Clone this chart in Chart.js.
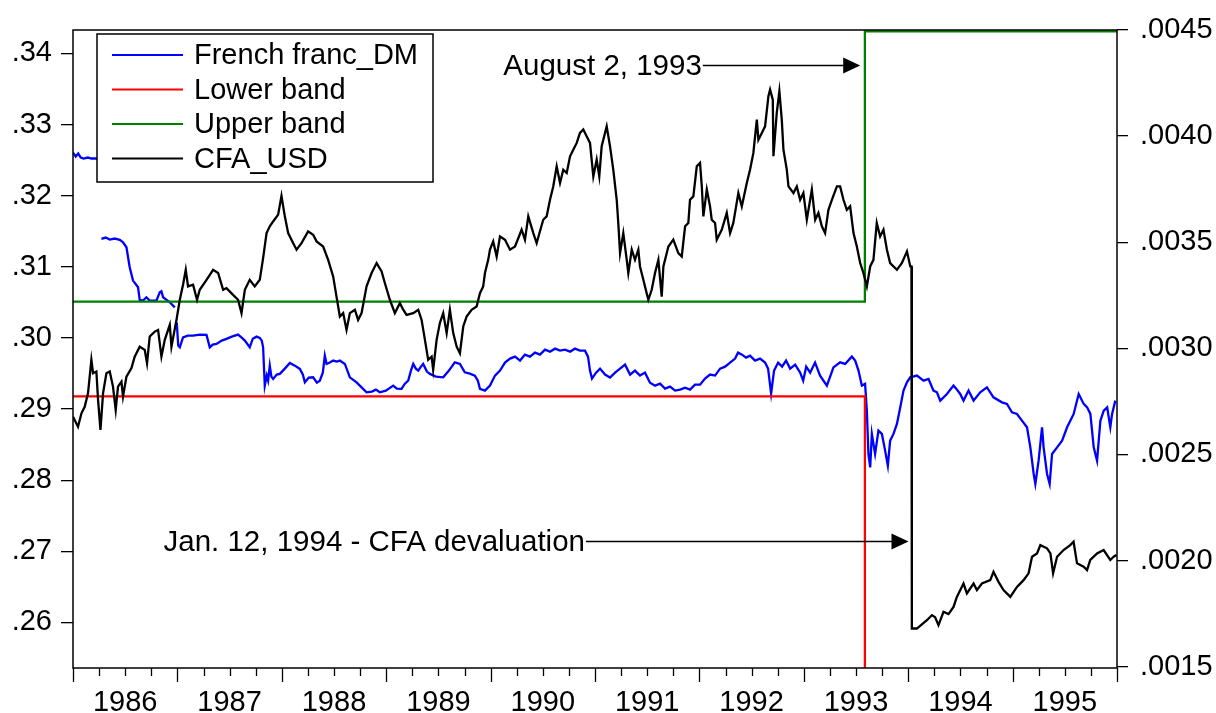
<!DOCTYPE html>
<html><head><meta charset="utf-8">
<script src="https://cdn.jsdelivr.net/npm/chart.js@4.4.1/dist/chart.umd.min.js"></script>
<style>html,body{margin:0;padding:0;background:#fff;}#wrap{width:1216px;height:713px;}</style>
</head><body><div id="wrap"><canvas id="c" width="1216" height="713"></canvas></div>
<script>
const FONT = '"Liberation Sans", Arial, Helvetica, sans-serif';
const yearLabels = [1986,1987,1988,1989,1990,1991,1992,1993,1994,1995];
const leftTicks = [0.26,0.27,0.28,0.29,0.30,0.31,0.32,0.33,0.34];
const rightTicks = [0.0015,0.0020,0.0025,0.0030,0.0035,0.0040,0.0045];
const seriesNames = ['French franc_DM','Lower band','Upper band','CFA_USD'];
const seriesColors = ['#0000ff','#ff0000','#008000','#000000'];

// ERM band dates (decimal years) and values
const bandDates = [1986.0, 1993.585, 1993.585, 1996.0];
const lowerBand = [0.2918, 0.2918, 0.2530, 0.2530];
const upperBand = [0.3051, 0.3051, 0.3431, 0.3431];

// French franc per DM (left axis) [decimal year, value]
const frenchFrancDM = [
[1986.000,.32607],[1986.026,.32551],[1986.050,.32593],[1986.074,.32537],[1986.103,.32523],[1986.141,.32537],[1986.179,.32523],[1986.218,.32523],[1986.246,.32509],[1986.260,null],
[1986.272,.31393],[1986.313,.31412],[1986.352,.31384],[1986.400,.31398],[1986.448,.31379],[1986.479,.31346],[1986.512,.31275],[1986.543,.30994],[1986.575,.30807],[1986.623,.30713],
[1986.639,.30535],[1986.671,.30526],[1986.703,.30572],[1986.735,.30526],[1986.799,.30526],[1986.831,.30642],[1986.847,.30656],[1986.863,.30572],[1986.927,.30502],[1986.975,.30431],[1986.985,null],
[1986.994,.30216],[1987.008,.29893],[1987.023,.29869],[1987.054,.30009],[1987.099,.30033],[1987.150,.30033],[1987.214,.30047],[1987.279,.30043],[1987.310,.29869],[1987.339,.29907],
[1987.374,.29917],[1987.425,.29963],[1987.470,.29987],[1987.521,.30019],[1987.581,.30047],[1987.616,.30005],[1987.646,.29963],[1987.693,.29869],[1987.722,.29990],[1987.758,.30019],
[1987.789,.30001],[1987.808,.29963],[1987.821,.29869],[1987.837,.29330],[1987.856,.29471],[1987.869,.29400],[1987.885,.29611],[1987.900,.29457],[1987.917,.29424],[1987.952,.29485],
[1987.981,.29495],[1988.029,.29569],[1988.077,.29649],[1988.125,.29611],[1988.173,.29565],[1988.202,.29485],[1988.221,.29376],[1988.259,.29443],[1988.300,.29447],[1988.336,.29372],
[1988.364,.29400],[1988.393,.29513],[1988.412,.29752],[1988.429,.29635],[1988.460,.29654],[1988.492,.29682],[1988.527,.29668],[1988.556,.29682],[1988.604,.29635],[1988.652,.29447],
[1988.681,.29415],[1988.716,.29376],[1988.757,.29316],[1988.812,.29236],[1988.863,.29246],[1988.901,.29274],[1988.939,.29236],[1988.997,.29260],[1989.067,.29330],[1989.102,.29288],
[1989.147,.29284],[1989.179,.29358],[1989.211,.29400],[1989.237,.29541],[1989.259,.29635],[1989.284,.29569],[1989.307,.29541],[1989.333,.29597],[1989.354,.29635],[1989.390,.29527],
[1989.419,.29495],[1989.476,.29457],[1989.546,.29447],[1989.601,.29541],[1989.657,.29658],[1989.706,.29635],[1989.753,.29517],[1989.801,.29499],[1989.849,.29471],[1989.878,.29400],
[1989.898,.29284],[1989.946,.29260],[1989.994,.29330],[1990.042,.29471],[1990.090,.29541],[1990.138,.29654],[1990.186,.29710],[1990.234,.29738],[1990.282,.29682],[1990.329,.29766],
[1990.377,.29738],[1990.425,.29794],[1990.473,.29766],[1990.521,.29836],[1990.569,.29808],[1990.617,.29850],[1990.665,.29822],[1990.713,.29836],[1990.761,.29808],[1990.808,.29850],
[1990.856,.29822],[1990.904,.29822],[1990.933,.29738],[1990.952,.29541],[1990.971,.29429],[1991.010,.29513],[1991.048,.29569],[1991.096,.29485],[1991.144,.29443],[1991.192,.29513],
[1991.240,.29569],[1991.288,.29625],[1991.336,.29485],[1991.383,.29541],[1991.431,.29471],[1991.479,.29513],[1991.527,.29372],[1991.575,.29330],[1991.623,.29358],[1991.671,.29288],
[1991.719,.29316],[1991.767,.29260],[1991.815,.29274],[1991.863,.29302],[1991.910,.29274],[1991.958,.29344],[1992.006,.29344],[1992.054,.29429],[1992.102,.29485],[1992.150,.29471],
[1992.198,.29569],[1992.246,.29597],[1992.294,.29654],[1992.342,.29710],[1992.370,.29794],[1992.408,.29766],[1992.447,.29724],[1992.485,.29752],[1992.533,.29682],[1992.581,.29710],
[1992.629,.29654],[1992.658,.29569],[1992.687,.29218],[1992.715,.29541],[1992.754,.29654],[1992.792,.29597],[1992.830,.29682],[1992.869,.29569],[1992.917,.29625],[1992.965,.29513],
[1992.994,.29400],[1993.023,.29597],[1993.061,.29513],[1993.108,.29654],[1993.156,.29471],[1993.221,.29330],[1993.284,.29587],[1993.348,.29658],[1993.396,.29635],[1993.460,.29738],
[1993.492,.29682],[1993.524,.29541],[1993.556,.29330],[1993.587,.29354],[1993.604,.28978],[1993.619,.28369],[1993.636,.28181],[1993.652,.28651],[1993.683,.28369],[1993.715,.28697],
[1993.748,.28651],[1993.779,.28416],[1993.805,.28205],[1993.827,.28556],[1993.859,.28651],[1993.892,.28791],[1993.924,.29025],[1993.955,.29260],[1993.988,.29376],[1994.020,.29447],
[1994.084,.29471],[1994.147,.29400],[1994.195,.29424],[1994.242,.29260],[1994.275,.29236],[1994.307,.29119],[1994.371,.29213],[1994.434,.29330],[1994.460,.29288],[1994.498,.29213],
[1994.530,.29119],[1994.578,.29260],[1994.626,.29119],[1994.690,.29236],[1994.754,.29306],[1994.817,.29166],[1994.898,.29095],[1994.946,.29072],[1994.994,.28955],[1995.042,.28932],
[1995.090,.28838],[1995.138,.28744],[1995.170,.28462],[1995.202,.28088],[1995.218,.27948],[1995.249,.28275],[1995.282,.28744],[1995.297,.28462],[1995.330,.28088],[1995.355,.27948],
[1995.378,.28369],[1995.426,.28462],[1995.474,.28556],[1995.522,.28744],[1995.585,.28932],[1995.633,.29213],[1995.681,.29073],[1995.714,.29025],[1995.745,.28932],[1995.777,.28462],
[1995.809,.28275],[1995.841,.28838],[1995.873,.28978],[1995.906,.29025],[1995.936,.28744],[1995.953,.28932],[1995.984,.29119]
];

// CFA franc in USD (right axis) [decimal year, value]
const cfaUsd = [
[1986.000,.002678],[1986.048,.002631],[1986.081,.002694],[1986.112,.002725],[1986.144,.002789],[1986.176,.002946],[1986.192,.002883],[1986.224,.002891],[1986.240,.002757],[1986.263,.002616],
[1986.288,.002789],[1986.320,.002883],[1986.352,.002891],[1986.383,.002820],[1986.409,.002710],[1986.431,.002820],[1986.464,.002843],[1986.479,.002773],[1986.512,.002867],[1986.560,.002907],
[1986.591,.002961],[1986.639,.003008],[1986.687,.002993],[1986.709,.002930],[1986.735,.003056],[1986.783,.003079],[1986.815,.003087],[1986.847,.002961],[1986.879,.003040],[1986.927,.003111],
[1986.943,.003008],[1986.991,.003134],[1987.023,.003229],[1987.054,.003300],[1987.080,.003370],[1987.102,.003292],[1987.150,.003300],[1987.188,.003229],[1987.214,.003276],[1987.279,.003323],
[1987.342,.003370],[1987.390,.003355],[1987.438,.003276],[1987.470,.003284],[1987.533,.003252],[1987.581,.003229],[1987.614,.003166],[1987.646,.003276],[1987.693,.003323],[1987.741,.003292],
[1987.789,.003323],[1987.821,.003425],[1987.854,.003543],[1987.885,.003575],[1987.917,.003598],[1987.965,.003630],[1987.997,.003719],[1988.029,.003622],[1988.061,.003543],[1988.108,.003496],
[1988.141,.003465],[1988.189,.003496],[1988.252,.003551],[1988.300,.003535],[1988.333,.003504],[1988.396,.003480],[1988.444,.003417],[1988.492,.003339],[1988.524,.003244],[1988.556,.003150],
[1988.588,.003166],[1988.620,.003087],[1988.652,.003166],[1988.700,.003182],[1988.731,.003134],[1988.764,.003166],[1988.812,.003292],[1988.860,.003355],[1988.908,.003402],[1988.956,.003362],
[1988.987,.003308],[1989.035,.003229],[1989.083,.003166],[1989.131,.003213],[1989.163,.003182],[1989.195,.003158],[1989.259,.003166],[1989.307,.003182],[1989.339,.003134],[1989.371,.003040],
[1989.402,.002946],[1989.435,.002961],[1989.450,.002899],[1989.483,.003040],[1989.514,.003119],[1989.546,.003166],[1989.579,.003072],[1989.610,.003182],[1989.642,.003072],[1989.675,.003008],
[1989.706,.002977],[1989.738,.003103],[1989.770,.003150],[1989.818,.003182],[1989.866,.003197],[1989.898,.003260],[1989.929,.003292],[1989.946,.003355],[1989.977,.003417],[1989.994,.003465],
[1990.025,.003504],[1990.058,.003433],[1990.090,.003527],[1990.138,.003512],[1990.186,.003465],[1990.234,.003480],[1990.297,.003559],[1990.329,.003512],[1990.361,.003622],[1990.409,.003543],
[1990.441,.003496],[1990.504,.003606],[1990.537,.003622],[1990.569,.003700],[1990.600,.003763],[1990.633,.003858],[1990.665,.003779],[1990.696,.003842],[1990.729,.003826],[1990.761,.003905],
[1990.792,.003936],[1990.825,.003968],[1990.856,.004015],[1990.888,.004031],[1990.920,.003999],[1990.952,.003968],[1990.984,.003810],[1991.016,.003889],[1991.041,.003810],[1991.064,.003952],
[1991.112,.004046],[1991.144,.003952],[1991.175,.003842],[1991.208,.003700],[1991.223,.003591],[1991.240,.003449],[1991.271,.003543],[1991.304,.003417],[1991.319,.003355],[1991.352,.003465],
[1991.383,.003417],[1991.415,.003465],[1991.431,.003386],[1991.463,.003323],[1991.495,.003260],[1991.511,.003229],[1991.543,.003276],[1991.575,.003355],[1991.607,.003417],[1991.639,.003244],
[1991.655,.003386],[1991.703,.003480],[1991.750,.003512],[1991.798,.003449],[1991.831,.003433],[1991.863,.003575],[1991.894,.003591],[1991.910,.003700],[1991.942,.003716],[1991.975,.003858],
[1992.006,.003874],[1992.023,.003763],[1992.038,.003622],[1992.071,.003748],[1992.102,.003669],[1992.118,.003606],[1992.150,.003591],[1992.166,.003512],[1992.214,.003559],[1992.262,.003638],
[1992.294,.003543],[1992.325,.003591],[1992.373,.003732],[1992.406,.003669],[1992.454,.003779],[1992.485,.003842],[1992.517,.003921],[1992.550,.004078],[1992.565,.003983],[1992.598,.004015],
[1992.629,.004046],[1992.661,.004188],[1992.677,.004219],[1992.703,.004172],[1992.709,.003905],[1992.741,.004109],[1992.766,.004211],[1992.789,.004078],[1992.805,.003936],[1992.837,.003842],
[1992.853,.003763],[1992.901,.003732],[1992.933,.003763],[1992.965,.003700],[1992.996,.003732],[1993.029,.003606],[1993.077,.003748],[1993.109,.003606],[1993.140,.003638],[1993.173,.003575],
[1993.204,.003543],[1993.236,.003653],[1993.269,.003700],[1993.317,.003763],[1993.348,.003763],[1993.380,.003700],[1993.412,.003653],[1993.444,.003669],[1993.476,.003543],[1993.508,.003480],
[1993.540,.003402],[1993.571,.003355],[1993.604,.003292],[1993.636,.003386],[1993.667,.003417],[1993.699,.003591],[1993.731,.003527],[1993.763,.003559],[1993.796,.003465],[1993.827,.003402],
[1993.892,.003370],[1993.940,.003402],[1993.988,.003457],[1994.020,.003386],[1994.031,.003386],[1994.035,.001680],[1994.083,.001680],[1994.131,.001700],[1994.179,.001719],[1994.227,.001743],
[1994.258,.001733],[1994.290,.001696],[1994.338,.001759],[1994.386,.001748],[1994.434,.001782],[1994.466,.001829],[1994.530,.001892],[1994.562,.001845],[1994.626,.001892],[1994.658,.001861],
[1994.706,.001892],[1994.786,.001908],[1994.817,.001947],[1994.865,.001900],[1994.913,.001861],[1994.978,.001829],[1995.042,.001876],[1995.105,.001908],[1995.153,.001940],[1995.186,.002018],
[1995.234,.002034],[1995.266,.002073],[1995.330,.002058],[1995.362,.002034],[1995.388,.001940],[1995.426,.002018],[1995.488,.002050],[1995.552,.002073],[1995.584,.002089],[1995.617,.001987],
[1995.680,.001971],[1995.713,.001955],[1995.744,.002003],[1995.809,.002034],[1995.872,.002050],[1995.936,.002003],[1995.968,.002018],[1995.994,.002026]
];

// annotation texts: text right end, arrow tip (decimal years), height on left axis
const annotations = [
  {text: 'August 2, 1993', textEnd: 1992.023, tip: 1993.540, level: 0.33831},
  {text: 'Jan. 12, 1994 - CFA devaluation', textEnd: 1990.904, tip: 1994.003, level: 0.27140}
];

const toXY = arr => arr.map(p => ({x: p[0], y: p[1]}));
const bandXY = vals => bandDates.map((d, i) => ({x: d, y: vals[i]}));

const framePlugin = {
  id: 'frame',
  afterDraw(chart) {
    const {ctx, chartArea: a, scales} = chart;
    ctx.save();
    ctx.strokeStyle = '#000';
    ctx.lineWidth = 1.5;
    ctx.strokeRect(a.left, a.top, a.right - a.left, a.bottom - a.top);
    // x tick marks (year and quarter)
    const xs = scales.x;
    const n = yearLabels.length * 4;
    ctx.lineWidth = 1.3;
    ctx.beginPath();
    for (let i = 0; i <= n; i++) {
      const px = Math.round(xs.getPixelForValue(yearLabels[0] + i / 4)) + 0.5;
      const len = (i % 4 === 0) ? 14 : 8;
      ctx.moveTo(px, a.bottom);
      ctx.lineTo(px, a.bottom + len);
    }
    ctx.stroke();

    // annotations
    const yl = scales.yL;
    ctx.font = '29.5px ' + FONT;
    ctx.fillStyle = '#000';
    ctx.textBaseline = 'middle';
    ctx.textAlign = 'right';
    annotations.forEach(an => {
      const x0 = xs.getPixelForValue(an.textEnd);
      const x1 = xs.getPixelForValue(an.tip);
      const y = Math.round(yl.getPixelForValue(an.level)) + 0.5;
      ctx.fillText(an.text, x0, y + 1);
      ctx.lineWidth = 1.5;
      ctx.beginPath();
      ctx.moveTo(x0 + 1, y);
      ctx.lineTo(x1 - 16, y);
      ctx.stroke();
      ctx.beginPath();
      ctx.moveTo(x1, y);
      ctx.lineTo(x1 - 17, y - 8);
      ctx.lineTo(x1 - 17, y + 8);
      ctx.closePath();
      ctx.fill();
    });

    // legend box
    const lx = a.left + 24, ly = a.top + 4, lw = 336, lh = 148;
    ctx.fillStyle = '#fff';
    ctx.fillRect(lx, ly, lw, lh);
    ctx.strokeStyle = '#000';
    ctx.lineWidth = 1.5;
    ctx.strokeRect(lx, ly, lw, lh);
    ctx.textAlign = 'left';
    ctx.font = '29px ' + FONT;
    chart.data.datasets.forEach((ds, i) => {
      const ry = ly + 21 + i * 34.5;
      ctx.strokeStyle = ds.borderColor;
      ctx.lineWidth = 2;
      ctx.beginPath();
      ctx.moveTo(lx + 15, ry);
      ctx.lineTo(lx + 86, ry);
      ctx.stroke();
      ctx.fillStyle = '#000';
      ctx.fillText(ds.label, lx + 97, ry + 1);
    });
    ctx.restore();
  }
};

new Chart(document.getElementById('c'), {
  type: 'line',
  data: {
    datasets: [
      {label: seriesNames[0], data: toXY(frenchFrancDM), borderColor: seriesColors[0], yAxisID: 'yL', order: 4},
      {label: seriesNames[1], data: bandXY(lowerBand), borderColor: seriesColors[1], yAxisID: 'yL', order: 3},
      {label: seriesNames[2], data: bandXY(upperBand), borderColor: seriesColors[2], yAxisID: 'yL', order: 2},
      {label: seriesNames[3], data: toXY(cfaUsd), borderColor: seriesColors[3], yAxisID: 'yR', order: 1}
    ]
  },
  options: {
    responsive: false,
    animation: false,
    devicePixelRatio: 1,
    spanGaps: false,
    layout: {padding: {top: 30, left: 0, right: 0, bottom: 0}},
    elements: {point: {radius: 0}, line: {borderWidth: 2.3, tension: 0, fill: false}},
    plugins: {legend: {display: false}, tooltip: {enabled: false}},
    scales: {
      x: {
        type: 'linear', position: 'bottom', min: 1986, max: 1996,
        afterBuildTicks: s => { s.ticks = yearLabels.map(y => ({value: y + 0.5})); },
        afterFit: s => { s.height = 45; },
        grid: {display: false, drawTicks: false},
        border: {display: false},
        ticks: {padding: 18, color: '#000', font: {family: FONT, size: 29}, maxRotation: 0, autoSkip: false,
                callback: v => String(Math.floor(v))}
      },
      yL: {
        type: 'linear', position: 'left', min: 0.2536, max: 0.3433,
        afterBuildTicks: s => { s.ticks = leftTicks.map(v => ({value: v})); },
        afterFit: s => { s.width = 73; },
        grid: {drawOnChartArea: false, drawTicks: true, tickLength: 12, color: '#000', lineWidth: 1.3},
        border: {display: false},
        ticks: {padding: 9, color: '#000', font: {family: FONT, size: 29},
                callback: v => v.toFixed(2).replace(/^0/, '')}
      },
      yR: {
        type: 'linear', position: 'right', min: 0.001494, max: 0.0045,
        afterBuildTicks: s => { s.ticks = rightTicks.map(v => ({value: v})); },
        afterFit: s => { s.width = 99; },
        grid: {drawOnChartArea: false, drawTicks: true, tickLength: 11, color: '#000', lineWidth: 1.3},
        border: {display: false},
        ticks: {padding: 12, color: '#000', font: {family: FONT, size: 29},
                callback: v => v.toFixed(4).replace(/^0/, '')}
      }
    }
  },
  plugins: [framePlugin]
});
</script>
</body></html>
